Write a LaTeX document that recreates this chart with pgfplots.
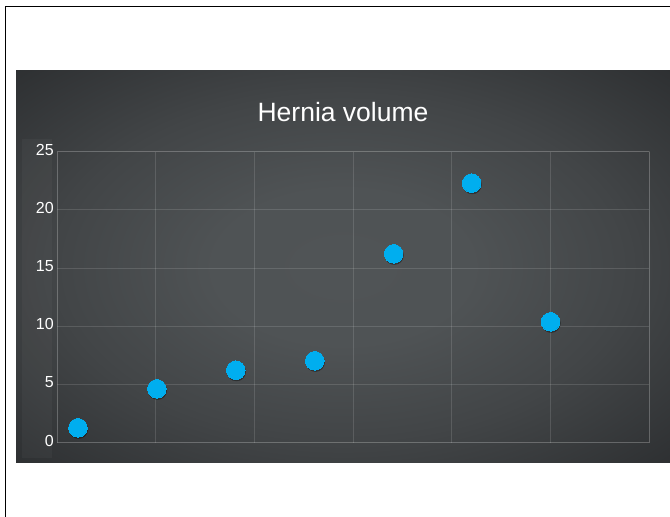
\documentclass[border=0pt]{standalone}
\usepackage{fontspec}
\setmainfont{Liberation Sans}
\usepackage{pgfplots}
\pgfplotsset{compat=1.18}
\definecolor{dotblue}{HTML}{00AEEF}
\definecolor{panelin}{HTML}{505456}
\definecolor{panelhalf}{HTML}{424547}
\definecolor{panelmid}{HTML}{27292B}
\definecolor{panelout}{HTML}{1A1C1E}
\pgfdeclareradialshading{panelshade}{\pgfpoint{0bp}{0bp}}{%
  color(0bp)=(panelin); color(10bp)=(panelin!92!panelhalf);
  color(22bp)=(panelhalf); color(40bp)=(panelmid); color(50bp)=(panelmid!60!panelout);
  color(71bp)=(panelout)}
\pgfplotstableread{
x y
0.21 1.26
1.01 4.61
1.81 6.21
2.61 7.02
3.41 16.21
4.20 22.28
5.00 10.37
}\hernia
\begin{document}
\begin{tikzpicture}[x=1pt,y=1pt]
\useasboundingbox (0,0) rectangle (670,517);
\fill[white] (0,0) rectangle (670,517);
\draw[black, line width=1pt] (5,-2) -- (5,510) -- (672,510);
% dark panel
\shade[shading=panelshade] (16,54) rectangle (670,446);
\fill[white, opacity=0.03] (22,59) rectangle (52,378);
\node[white, font=\fontsize{26.5}{26.5}\selectfont] at (343,405) {Hernia volume};
\begin{axis}[
    at={(58,64)}, anchor=origin,
    scale only axis, width=592pt, height=291pt,
    xmin=0, xmax=6, ymin=0, ymax=25,
    xtick={0,...,6}, xticklabels={},
    ytick={0,5,...,25},
    grid=major,
    grid style={white, opacity=0.13, line width=0.8pt},
    axis line style={white, opacity=0.13, line width=0.8pt},
    major tick length=0pt,
    tick label style={white, font=\fontsize{16}{16}\selectfont},
    yticklabel style={yshift=2pt},
    /pgf/number format/assume math mode=true,
]
% soft shadow below each dot
\addplot[only marks, mark=*, mark size=9.3pt, color=black,
    mark options={fill=black, draw=none, opacity=0.3, xshift=0.6pt, yshift=-1.5pt}]
    table[x=x, y=y] {\hernia};
\addplot[only marks, mark=*, mark size=9.3pt, color=dotblue,
    mark options={fill=dotblue, draw=dotblue, line width=0pt}]
    table[x=x, y=y] {\hernia};
\end{axis}
\end{tikzpicture}
\end{document}
